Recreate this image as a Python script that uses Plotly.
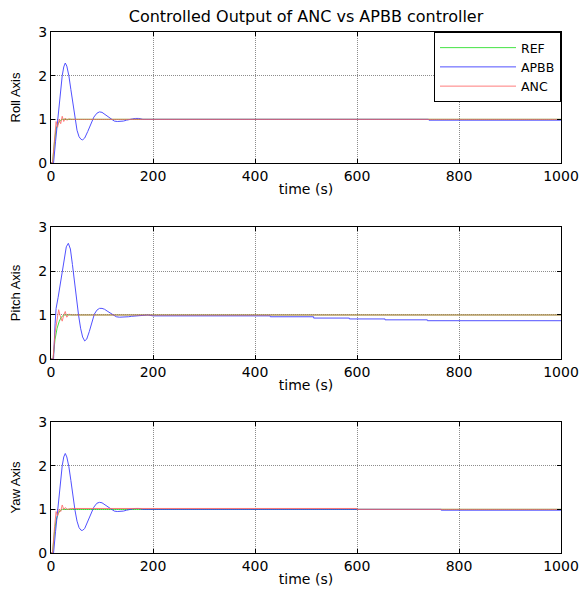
import plotly.graph_objects as go
from plotly.subplots import make_subplots

# ---------------- data ----------------
title_text = "Controlled Output of ANC vs APBB controller"
axis_names = ["Roll Axis", "Pitch Axis", "Yaw Axis"]
x_ticks = [0, 200, 400, 600, 800, 1000]
y_ticks = [0, 1, 2, 3]

# Roll
roll_ref_t = [0, 3, 7, 10, 14, 18, 22, 1000]
roll_ref_v = [0, 0, 0.5, 0.78, 0.9, 0.97, 1.0, 1.0]
roll_apbb_t = [0, 5, 9, 13, 17, 22, 25, 28, 31, 35, 39, 43, 47, 51, 55, 59, 62, 66, 72, 78,
               84, 90, 95, 100, 106, 112, 118, 124, 130, 136, 142, 148, 154, 160, 166, 172,
               180, 740, 741, 1000]
roll_apbb_v = [0, 0, 0.5, 1.0, 1.45, 2.0, 2.2, 2.29, 2.22, 2.0, 1.68, 1.33, 1.0, 0.75, 0.6,
               0.54, 0.53, 0.57, 0.72, 0.9, 1.05, 1.14, 1.17, 1.16, 1.11, 1.05, 0.99, 0.96,
               0.95, 0.95, 0.96, 0.98, 1.0, 1.01, 1.02, 1.02, 1.0, 1.0, 0.98, 0.98]
roll_anc_t = [0, 3, 7, 10, 13, 16, 19, 22, 25, 28, 31, 35, 40, 1000]
roll_anc_v = [0, 0, 0.55, 0.95, 0.82, 1.0, 0.9, 1.07, 0.95, 1.03, 0.98, 1.01, 1.0, 1.0]

# Pitch
pitch_ref_t = [0, 4, 8, 12, 16, 20, 25, 1000]
pitch_ref_v = [0, 0, 0.45, 0.7, 0.85, 0.95, 1.0, 1.0]
pitch_apbb_t = [0, 5, 8, 10, 14, 18, 22, 26, 30, 34, 38, 42, 46, 50, 54, 58, 62, 66, 70, 75,
                80, 85, 90, 95, 100, 105, 110, 116, 122, 128, 134, 140, 146, 152, 158, 165,
                172, 180, 190, 200, 430, 430, 515, 515, 585, 585, 655, 655, 738, 738, 1000]
pitch_apbb_v = [0, 0, 0.8, 1.15, 1.4, 1.7, 2.0, 2.3, 2.55, 2.63, 2.5, 2.15, 1.75, 1.35, 1.0,
                0.7, 0.5, 0.41, 0.45, 0.62, 0.85, 1.02, 1.11, 1.15, 1.15, 1.13, 1.09, 1.04,
                0.99, 0.96, 0.95, 0.95, 0.95, 0.96, 0.97, 0.98, 0.99, 1.0, 1.0, 0.98, 0.98,
                0.96, 0.96, 0.93, 0.93, 0.91, 0.91, 0.89, 0.89, 0.87, 0.87]
pitch_anc_t = [0, 4, 8, 12, 15, 18, 22, 25, 28, 31, 35, 40, 1000]
pitch_anc_v = [0, 0, 0.6, 0.95, 1.12, 0.98, 0.86, 1.0, 1.08, 0.95, 1.02, 1.0, 1.0]

# Yaw
yaw_ref_t = [0, 3, 7, 10, 14, 18, 22, 1000]
yaw_ref_v = [0, 0, 0.5, 0.75, 0.9, 0.97, 1.0, 1.0]
yaw_apbb_t = [0, 5, 9, 13, 17, 22, 25, 28, 31, 35, 39, 43, 47, 51, 55, 59, 62, 66, 72, 78,
              84, 90, 95, 100, 106, 112, 118, 124, 130, 136, 142, 148, 154, 160, 166, 172,
              180, 765, 765, 1000]
yaw_apbb_v = [0, 0, 0.5, 1.0, 1.45, 2.0, 2.2, 2.28, 2.2, 1.98, 1.66, 1.3, 0.98, 0.73, 0.58,
              0.52, 0.52, 0.56, 0.72, 0.9, 1.05, 1.14, 1.16, 1.15, 1.1, 1.04, 0.99, 0.96,
              0.95, 0.95, 0.96, 0.98, 1.0, 1.01, 1.02, 1.02, 1.0, 1.0, 0.98, 0.98]
yaw_anc_t = [0, 3, 7, 10, 13, 16, 19, 22, 25, 28, 32, 40, 600, 600, 1000]
yaw_anc_v = [0, 0, 0.6, 0.95, 0.85, 1.0, 0.95, 1.1, 1.0, 1.04, 1.0, 1.02, 1.02, 1.0, 1.0]

series_names = ["REF", "APBB", "ANC"]
series_colors = ["#22dd22", "#3333ff", "#ff6666"]

panels = [
    [(roll_ref_t, roll_ref_v), (roll_apbb_t, roll_apbb_v), (roll_anc_t, roll_anc_v)],
    [(pitch_ref_t, pitch_ref_v), (pitch_apbb_t, pitch_apbb_v), (pitch_anc_t, pitch_anc_v)],
    [(yaw_ref_t, yaw_ref_v), (yaw_apbb_t, yaw_apbb_v), (yaw_anc_t, yaw_anc_v)],
]

# ---------------- figure ----------------
fig = make_subplots(rows=3, cols=1)

for r, panel in enumerate(panels, start=1):
    for k, (t, v) in enumerate(panel):
        fig.add_trace(go.Scatter(
            x=t, y=v, mode="lines", name=series_names[k],
            line=dict(color=series_colors[k], width=1),
            opacity=0.85,
            showlegend=(r == 1),
        ), row=r, col=1)

domains = [[0.7486, 1.0], [0.3724, 0.6257], [0.0, 0.2514]]
hfont = "DejaVu Sans"
for r in range(1, 4):
    fig.update_xaxes(
        row=r, col=1, range=[0, 1000], tickvals=x_ticks, automargin=False,
        showline=True, mirror="ticks", linecolor="black", linewidth=1,
        ticks="inside", ticklen=4, tickcolor="black",
        showgrid=True, gridcolor="#8c8c8c", griddash="1px,1px", gridwidth=1,
        zeroline=False,
        tickfont=dict(family=hfont, size=14, color="black"),
        title=dict(text="time (s)", font=dict(family=hfont, size=14, color="black"),
                   standoff=1),
    )
    fig.update_yaxes(
        row=r, col=1, range=[0, 3], tickvals=y_ticks, domain=domains[r - 1],
        automargin=False,
        showline=True, mirror="ticks", linecolor="black", linewidth=1,
        ticks="inside", ticklen=4, tickcolor="black",
        showgrid=True, gridcolor="#8c8c8c", griddash="1px,1px", gridwidth=1,
        zeroline=False,
        tickfont=dict(family=hfont, size=14, color="black"),
        title=dict(text=axis_names[r - 1],
                   font=dict(family="Liberation Sans", size=13, color="black"),
                   standoff=14),
    )

fig.update_layout(
    width=581, height=590,
    margin=dict(l=51, r=20, t=32, b=37, autoexpand=False),
    paper_bgcolor="white", plot_bgcolor="white",
    title=dict(text=title_text, x=306 / 581, xanchor="center", y=1 - 16 / 590,
               yanchor="middle", font=dict(family=hfont, size=16, color="black")),
    legend=dict(
        x=1.0, xanchor="right", y=1.0, yanchor="top",
        bgcolor="white", bordercolor="black", borderwidth=1,
        font=dict(family=hfont, size=12.5, color="black"),
        itemwidth=76, tracegroupgap=0,
    ),
    showlegend=True,
)

fig.write_html("out.html", config={"displayModeBar": False},
               post_script="document.body.style.margin='0';")
